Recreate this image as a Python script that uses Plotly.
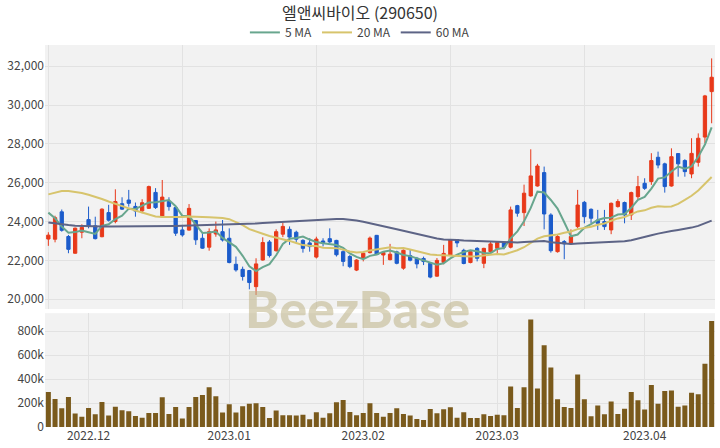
import pandas as pd
import plotly.graph_objects as go

# ---------------- data ----------------
holidays = ["2022-12-30", "2023-01-23", "2023-01-24", "2023-03-01"]
dates = [d.strftime("%Y-%m-%d") for d in pd.bdate_range("2022-11-23", "2023-04-17")
         if d.strftime("%Y-%m-%d") not in holidays]

open_ = [23100, 23090, 24500, 23230, 22370, 23450, 24100, 23780, 23220, 24460,
         24000, 24920, 25110, 24780, 24550, 24680, 25500, 24250, 25030, 24720,
         23570, 23560, 24050, 23140, 22680, 23360, 23480, 23140, 21800, 21540,
         21480, 20650, 22020, 22950, 22500, 23350, 23600, 23450, 23030, 22900,
         22170, 23000, 23120, 23030, 22450, 22200, 21500, 22110, 22400, 23290,
         22280, 22040, 22440, 21600, 22250, 22110, 22100, 21850, 21190, 21900,
         22280, 23070, 22520, 21890, 22620, 21850, 22450, 22620, 22920, 22680,
         24820, 24460, 25320, 25830, 26520, 24340, 22450, 22970, 22880, 23740,
         24990, 24630, 24080, 24000, 23570, 24770, 24980, 24340, 25280, 25970,
         26060, 27310, 26970, 25830, 27500, 27140, 26450, 27050, 28350, 30690]
high = [23450, 24300, 24620, 23310, 23690, 23860, 24770, 24250, 24680, 24860,
        25660, 25250, 25630, 24980, 25150, 25850, 25720, 26140, 25250, 24770,
        23830, 24900, 24080, 23400, 23650, 24000, 24080, 23650, 22200, 21680,
        21510, 22110, 23190, 23050, 23600, 23950, 23750, 23530, 23090, 23140,
        23220, 23140, 23650, 23060, 22530, 22280, 22060, 22450, 23230, 23310,
        22440, 22850, 22500, 22560, 22570, 22180, 22195, 21900, 22120, 22800,
        23100, 23090, 22600, 22500, 22680, 22650, 22970, 22970, 22970, 24770,
        24860, 25900, 27720, 26970, 26830, 24430, 23310, 23050, 23600, 25630,
        25060, 24680, 24600, 24600, 24980, 25150, 25030, 25540, 26350, 26230,
        27520, 27600, 27030, 27770, 27520, 27210, 28290, 28540, 30520, 32400]
low = [22750, 22930, 23480, 22370, 22350, 23140, 23650, 23080, 23190, 24000,
       23910, 24600, 24770, 24250, 24430, 24650, 24650, 24200, 24560, 23260,
       23220, 23530, 22800, 22600, 22500, 23220, 22970, 21850, 21420, 20960,
       20510, 20220, 21990, 22150, 22450, 23200, 22800, 22950, 22400, 22450,
       22100, 22720, 22900, 22200, 21700, 21600, 21450, 21950, 22360, 22280,
       21770, 22000, 21800, 21520, 21950, 21590, 21760, 21080, 21160, 21800,
       22230, 22680, 21800, 21850, 21950, 21600, 22370, 22370, 22570, 22620,
       24250, 23770, 25280, 25800, 23600, 22400, 22400, 22060, 22800, 23650,
       23910, 23910, 23570, 23570, 23350, 24720, 23910, 24080, 25150, 25630,
       25890, 26740, 25490, 25800, 26310, 26310, 26230, 26830, 28030, 29060]
close = [23300, 24200, 23550, 22570, 23660, 23700, 23760, 23120, 24640, 24070,
         25030, 24640, 24940, 24540, 24970, 25800, 24720, 25260, 24770, 23400,
         23310, 24680, 23060, 22630, 23480, 23570, 23050, 21890, 21510, 21170,
         20860, 21820, 22920, 22250, 23480, 23750, 23200, 23090, 22620, 22710,
         23100, 22920, 22950, 22290, 21950, 21680, 22020, 22370, 23150, 22300,
         22400, 22320, 21850, 22520, 22010, 21820, 21940, 21140, 22000, 22360,
         23070, 22900, 21840, 22450, 22110, 22620, 22850, 22920, 22680, 24600,
         24430, 25460, 26350, 26860, 24390, 22500, 23230, 22850, 23230, 24850,
         24250, 24170, 23910, 23740, 24940, 25030, 24340, 25490, 25800, 25710,
         27140, 26910, 25800, 27340, 26970, 26570, 27510, 28290, 30470, 31430]
volume_k = [293, 234, 156, 251, 112, 86, 159, 106, 209, 95,
            170, 139, 131, 92, 78, 117, 117, 248, 109, 167,
            70, 167, 251, 268, 332, 257, 120, 190, 120, 173,
            195, 198, 167, 75, 137, 98, 98, 95, 103, 64,
            123, 78, 114, 206, 226, 126, 98, 117, 198, 117,
            86, 117, 156, 109, 95, 67, 59, 151, 114, 148,
            165, 78, 123, 75, 75, 106, 92, 103, 98, 338,
            159, 332, 898, 321, 683, 497, 232, 167, 159, 438,
            232, 89, 179, 106, 212, 109, 153, 293, 223, 145,
            351, 195, 301, 304, 170, 179, 285, 273, 527, 884]
volume = [v * 1000 for v in volume_k]

# moving-average values before enough visible history exists
ma5_head = [24460, 24170, 23740, 23430]
ma20_head = [25400, 25500, 25570, 25575, 25540, 25470, 25380, 25280, 25160, 25030,
             24900, 24780, 24680, 24570, 24460, 24350, 24260, 24230, 24220]
ma60_head = [23950, 23900, 23860, 23820, 23790, 23770, 23760, 23750, 23745, 23740,
             23740, 23738, 23740, 23742, 23748, 23752, 23758, 23765, 23770, 23775,
             23782, 23790, 23800, 23808, 23818, 23830, 23840, 23850, 23860, 23872,
             23885, 23900, 23920, 23940, 23960, 23985, 24005, 24030, 24055, 24080,
             24100, 24118, 24130, 24135, 24128, 24100, 24050, 23990, 23920, 23840,
             23760, 23680, 23600, 23520, 23440, 23360, 23280, 23200, 23130]

month_labels = ["2022.12", "2023.01", "2023.02", "2023.03", "2023.04"]
ticker_title = "엘앤씨바이오 (290650)"


def moving_average(values, window, head):
    out = pd.Series(values, dtype=float).rolling(window).mean().tolist()
    out[:len(head)] = head
    return out


ma5 = moving_average(close, 5, ma5_head)
ma20 = moving_average(close, 20, ma20_head)
ma60 = moving_average(close, 60, ma60_head)

# month-start ticks
month_ticks = []
seen = set()
for d in dates:
    m = d[:7]
    if m not in seen:
        seen.add(m)
        month_ticks.append(d)
month_ticks = month_ticks[1:]  # first month (Nov) not labelled

RED = "#e8391a"
BLUE = "#1c5ccb"
VOL = "#7a5a1c"
FONT = "Noto Sans CJK KR"

fig = go.Figure()
fig.add_trace(go.Candlestick(
    x=dates, open=open_, high=high, low=low, close=close,
    increasing=dict(line=dict(color=RED, width=1), fillcolor=RED),
    decreasing=dict(line=dict(color=BLUE, width=1), fillcolor=BLUE),
    whiskerwidth=0, showlegend=False, xaxis="x", yaxis="y"))
fig.add_trace(go.Scatter(x=dates, y=ma5, mode="lines", name="5 MA",
                         line=dict(color="#68a68e", width=2), xaxis="x", yaxis="y"))
fig.add_trace(go.Scatter(x=dates, y=ma20, mode="lines", name="20 MA",
                         line=dict(color="#d7c46c", width=2), xaxis="x", yaxis="y"))
fig.add_trace(go.Scatter(x=dates, y=ma60, mode="lines", name="60 MA",
                         line=dict(color="#5d6486", width=2), xaxis="x", yaxis="y"))
fig.add_trace(go.Bar(x=dates, y=volume, marker=dict(color=VOL, line=dict(width=0)),
                     showlegend=False, xaxis="x2", yaxis="y2"))

grid = "#e2e2e2"
fig.update_layout(
    width=720, height=448,
    margin=dict(l=45, r=5, t=45, b=21),
    paper_bgcolor="white", plot_bgcolor="#f2f2f2",
    font=dict(family=FONT, size=12, color="#444"),
    title=dict(text=ticker_title, x=0.5, xanchor="center", y=0.971, yanchor="middle",
               font=dict(family=FONT, size=16, color="#333")),
    legend=dict(orientation="h", x=0.47, xanchor="center",
                y=0.995, yanchor="bottom",
                font=dict(size=12, color="#444"), bgcolor="rgba(0,0,0,0)",
                itemwidth=30, tracegroupgap=0),
    bargap=0.25,
    xaxis=dict(type="category", domain=[0, 1], anchor="y", range=[-0.5, 99.5],
               tickvals=[dates[i] for i in (0, 20, 40, 60, 80)], showticklabels=False,
               showgrid=True, gridcolor=grid, rangeslider=dict(visible=False),
               ticks=""),
    xaxis2=dict(type="category", domain=[0, 1], anchor="y2", range=[-0.5, 99.5],
                matches="x", tickvals=month_ticks, ticktext=month_labels,
                showgrid=True, gridcolor=grid, ticks="", tickfont=dict(size=12, color="#444")),
    yaxis=dict(domain=[0.309, 1], range=[19500, 33090], tickformat=",",
               tickvals=[20000, 22000, 24000, 26000, 28000, 30000, 32000],
               showgrid=True, gridcolor=grid, zeroline=False, ticks=""),
    yaxis2=dict(domain=[0, 0.298], range=[0, 950000],
                tickvals=[0, 200000, 400000, 600000, 800000],
                ticktext=["0", "200k", "400k", "600k", "800k"],
                showgrid=True, gridcolor=grid, zeroline=False, ticks=""),
    annotations=[dict(text="BeezBase", xref="paper", yref="paper", x=0.466, y=0.312,
                      xanchor="center", yanchor="middle", showarrow=False,
                      font=dict(family="Lato", size=52, weight=900,
                                color="rgba(190,178,134,0.55)"))],
)

fig.write_html("out.html", config={"displayModeBar": False},
               post_script="document.body.style.margin='0';")
